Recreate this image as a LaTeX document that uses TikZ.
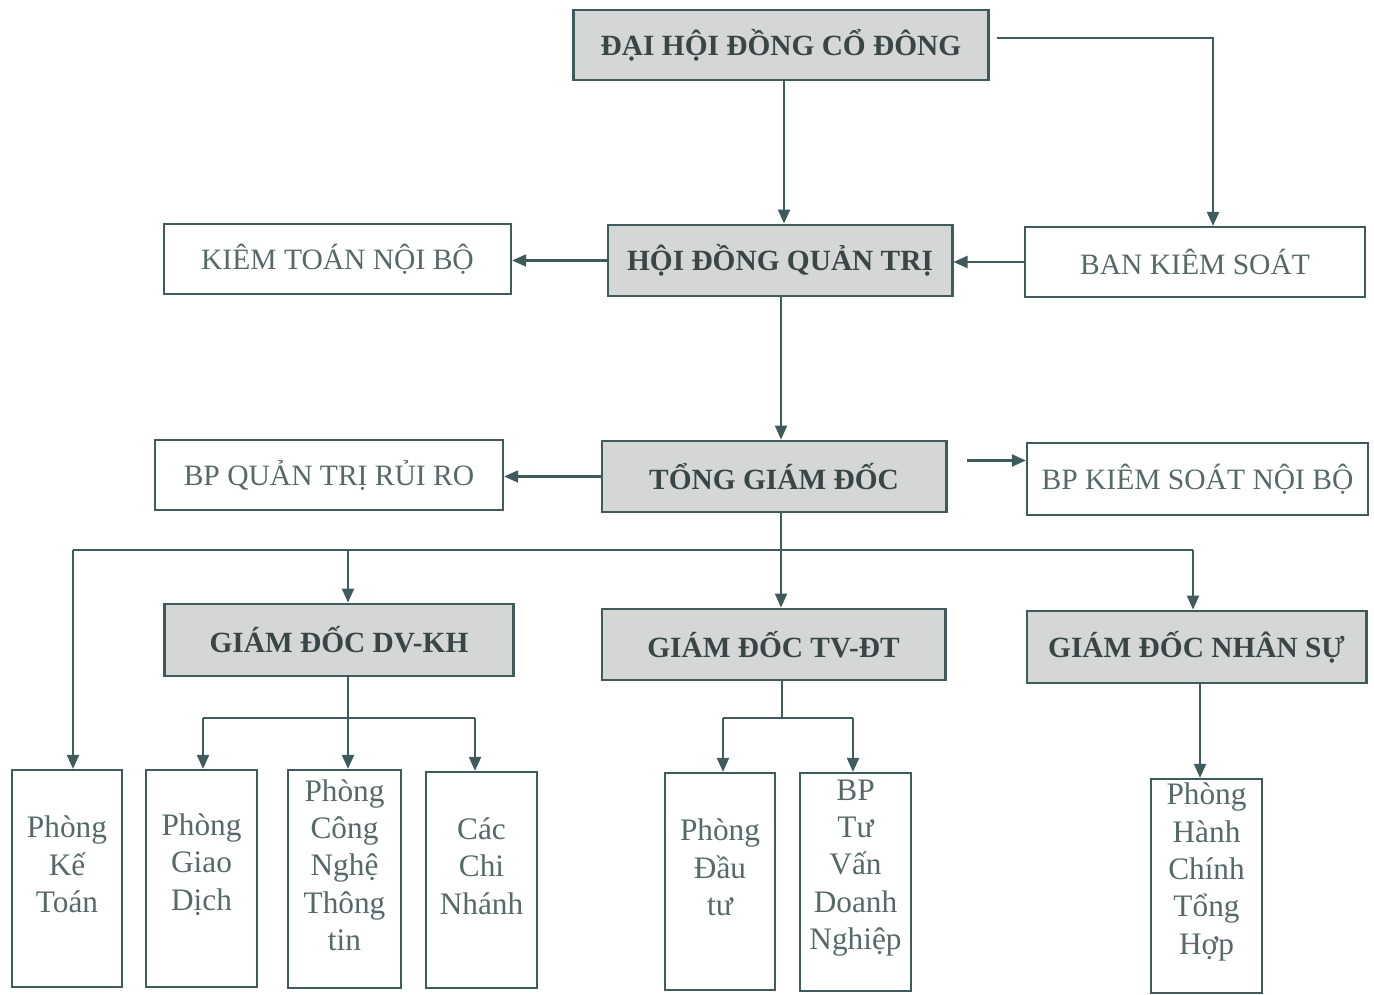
\documentclass[tikz,border=0pt]{standalone}
\usepackage{fontspec}
\setmainfont{Liberation Serif}
\usetikzlibrary{arrows.meta}
\definecolor{lineC}{HTML}{3F5B5B}
\definecolor{headF}{HTML}{D5D7D7}
\definecolor{headT}{HTML}{3A4646}
\definecolor{unitT}{HTML}{566868}
\begin{document}
\begin{tikzpicture}[x=0.01cm,y=-0.01cm,
    >={Triangle[length=0.14cm,width=0.12cm]},
    head/.style={draw=lineC,line width=0.8pt,fill=headF,text=headT,inner sep=0pt,
      font=\bfseries\fontsize{8.35}{10}\selectfont},
    unit/.style={draw=lineC,line width=0.6pt,text=unitT,inner sep=0pt,minimum height=0.7cm,
      font=\fontsize{8.4}{10}\selectfont},
    room/.style={draw=lineC,line width=0.6pt,minimum width=1.1cm,inner sep=0pt},
    roomtxt/.style={text=unitT,align=center,inner sep=0pt,yshift=0.14cm,
      font=\fontsize{8.9}{10.6}\selectfont},
    conn/.style={draw=lineC,line width=0.6pt}]
        \useasboundingbox (0,0) rectangle (1374,995);
        %% Nodes
        \node[head,minimum width=4.14cm,minimum height=0.70cm] (dhdcd) at (781,45) {ĐẠI HỘI ĐỒNG CỔ ĐÔNG};
        \node[head,minimum width=3.44cm,minimum height=0.71cm] (hdqt) at (780,260.5) {HỘI ĐỒNG QUẢN TRỊ};
        \node[unit,minimum width=3.47cm] (ktnb) at (337.5,259) {KIÊM TOÁN NỘI BỘ};
        \node[unit,minimum width=3.40cm] (bks) at (1195,262) {BAN KIÊM SOÁT};
        \node[head,minimum width=3.44cm,minimum height=0.71cm] (tgd) at (774,476.5) {TỔNG GIÁM ĐỐC};
        \node[unit,minimum width=3.48cm] (qtrr) at (329,475) {BP QUẢN TRỊ RỦI RO};
        \node[unit,minimum width=3.41cm,minimum height=0.72cm] (ksnb) at (1197.5,479) {BP KIÊM SOÁT NỘI BỘ};
        \node[head,minimum width=3.48cm,minimum height=0.72cm] (gddv) at (339,640) {GIÁM ĐỐC DV-KH};
        \node[head,minimum width=3.43cm,minimum height=0.71cm] (gdtv) at (773.5,644.5) {GIÁM ĐỐC TV-ĐT};
        \node[head,minimum width=3.39cm,minimum height=0.72cm] (gdns) at (1196.5,647) {GIÁM ĐỐC NHÂN SỰ};
        %% Rooms
        \node[room,minimum height=2.17cm] (kt) at (67,878.5) {};
        \node[roomtxt] (ktT) at (kt) {Phòng\\Kế\\Toán};
        \node[room,minimum height=2.17cm,minimum width=1.11cm] (gd) at (201.5,878.5) {};
        \node[roomtxt] (gdT) at (gd) {Phòng\\Giao\\Dịch};
        \node[room,minimum height=2.18cm,minimum width=1.13cm] (cntt) at (344.5,879) {};
        \node[roomtxt] (cnttT) at (cntt) {Phòng\\Công\\Nghệ\\Thông\\tin};
        \node[room,minimum height=2.16cm,minimum width=1.11cm] (ccn) at (481.5,880) {};
        \node[roomtxt] (ccnT) at (ccn) {Các\\Chi\\Nhánh};
        \node[room,minimum height=2.17cm] (dt) at (720,881.5) {};
        \node[roomtxt] (dtT) at (dt) {Phòng\\Đầu\\tư};
        \node[room,minimum height=2.18cm,minimum width=1.11cm] (tvdn) at (855.5,882) {};
        \node[roomtxt] (tvdnT) at (tvdn) {BP\\Tư\\Vấn\\Doanh\\Nghiệp};
        \node[room,minimum height=2.14cm,minimum width=1.11cm] (hcth) at (1206.5,886) {};
        \node[roomtxt] (hcthT) at (hcth) {Phòng\\Hành\\Chính\\Tổng\\Hợp};
        %% Junctions
        \coordinate (top) at (784,0);
        \coordinate (bk) at (1213,38);
        \coordinate (spine) at (781,0);
        \coordinate (busL) at (73,550);
        \coordinate (busR) at (1193,550);
        \coordinate (jDV) at (348,550);
        \coordinate (dvL) at (203,718);
        \coordinate (dvR) at (475,718);
        \coordinate (tvL) at (723,718);
        \coordinate (tvR) at (853,718);
        \coordinate (tvM) at (782,718);
        \coordinate (nsM) at (1200,0);
        %% Lines
        \draw[conn,->] (top |- dhdcd.south) -- (top |- hdqt.north);
        \draw[conn,->] ([xshift=0.07cm]dhdcd.east |- bk) -- (bk) -- (bk |- bks.north);
        \draw[conn,->] (hdqt.west) -- (hdqt.west -| ktnb.east);
        \draw[conn,->] (bks.west) -- (bks.west -| hdqt.east);
        \draw[conn,->] (spine |- hdqt.south) -- (spine |- tgd.north);
        \draw[conn,->] (tgd.west) -- (tgd.west -| qtrr.east);
        \draw[conn,->] ([xshift=0.19cm,yshift=0.16cm]tgd.east) -- ([yshift=0.16cm]tgd.east -| ksnb.west);
        \draw[conn,->] (spine |- tgd.south) -- (spine |- gdtv.north);
        \draw[conn] (busL) -- (busR);
        \draw[conn,->] (busL) -- (busL |- kt.north);
        \draw[conn,->] (jDV) -- (jDV |- gddv.north);
        \draw[conn,->] (busR) -- (busR |- gdns.north);
        \draw[conn,->] (jDV |- gddv.south) -- (jDV |- cntt.north);
        \draw[conn] (dvL) -- (dvR);
        \draw[conn,->] (dvL) -- (dvL |- gd.north);
        \draw[conn,->] (dvR) -- (dvR |- ccn.north);
        \draw[conn] (tvM |- gdtv.south) -- (tvM);
        \draw[conn] (tvL) -- (tvR);
        \draw[conn,->] (tvL) -- (tvL |- dt.north);
        \draw[conn,->] (tvR) -- (tvR |- tvdn.north);
        \draw[conn,->] (nsM |- gdns.south) -- (nsM |- hcth.north);
    \end{tikzpicture}
\end{document}
